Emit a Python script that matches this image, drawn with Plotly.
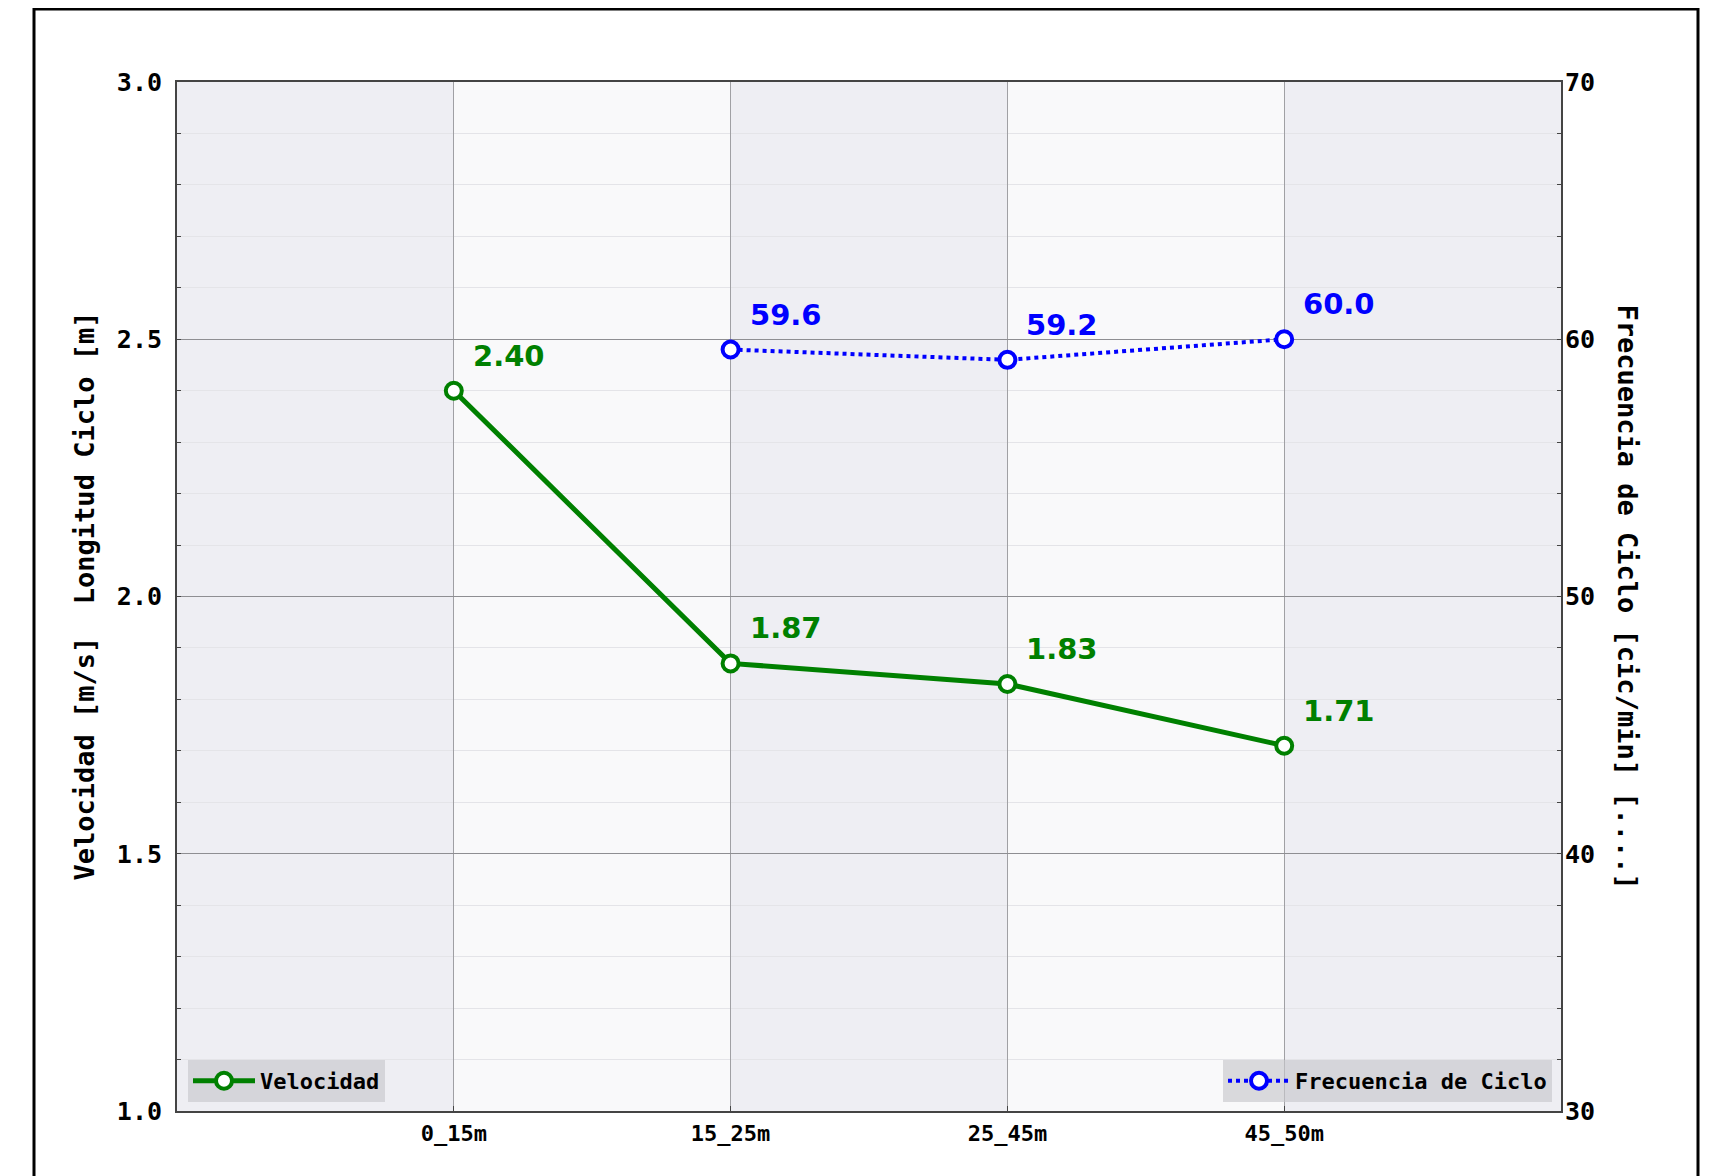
import plotly.graph_objects as go

categories = ["0_15m", "15_25m", "25_45m", "45_50m"]
velocidad = [2.40, 1.87, 1.83, 1.71]
frecuencia = [None, 59.6, 59.2, 60.0]
vel_labels = ["2.40", "1.87", "1.83", "1.71"]
frec_labels = [None, "59.6", "59.2", "60.0"]
x_pos = [1, 2, 3, 4]

W, H = 1706, 1168
L, R, T, B = 169, 1553, 74, 1103
pw, ph = R - L, B - T

def px(x):
    return (x - L) / pw

def py(y):
    return (B - y) / ph

GREEN = "#008000"
BLUE = "#0000ff"
MONO = "DejaVu Sans Mono"

fig = go.Figure()

fig.add_trace(go.Scatter(
    x=x_pos, y=velocidad, name="<b>Velocidad</b>", mode="lines+markers",
    line=dict(color=GREEN, width=5),
    marker=dict(symbol="circle", size=16, color="white", line=dict(color=GREEN, width=4)),
    legend="legend", yaxis="y",
))
fig.add_trace(go.Scatter(
    x=x_pos, y=frecuencia, name="<b>Frecuencia de Ciclo</b>", mode="lines+markers",
    line=dict(color=BLUE, width=4, dash="dot"),
    marker=dict(symbol="circle", size=16, color="white", line=dict(color=BLUE, width=4)),
    legend="legend2", yaxis="y2",
))

annotations = []
for xv, yv, t in zip(x_pos, velocidad, vel_labels):
    annotations.append(dict(x=xv, y=yv, xref="x", yref="y", text=f"<b>{t}</b>", showarrow=False,
                            xshift=55, yshift=35, font=dict(family="DejaVu Sans", size=29, color=GREEN)))
for xv, yv, t in zip(x_pos, frecuencia, frec_labels):
    if yv is None:
        continue
    annotations.append(dict(x=xv, y=yv, xref="x", yref="y2", text=f"<b>{t}</b>", showarrow=False,
                            xshift=55, yshift=35, font=dict(family="DejaVu Sans", size=29, color=BLUE)))

annotations.append(dict(x=px(76), y=0.5, xref="paper", yref="paper", showarrow=False, textangle=-90,
                        text="<b>Velocidad [m/s]\u00a0\u00a0Longitud Ciclo [m]</b>",
                        font=dict(family=MONO, size=27, color="black"), xanchor="center", yanchor="middle"))
annotations.append(dict(x=px(1619), y=0.5, xref="paper", yref="paper", showarrow=False, textangle=90,
                        text="<b>Frecuencia de Ciclo [cic/min] [....]</b>",
                        font=dict(family=MONO, size=27, color="black"), xanchor="center", yanchor="middle"))

shapes = []
band_colors = ["#eeeef3", "#f9f9fa", "#eeeef3", "#f9f9fa", "#eeeef3"]
for i, c in enumerate(band_colors):
    shapes.append(dict(type="rect", xref="x", yref="paper", x0=i, x1=i + 1, y0=0, y1=1,
                       fillcolor=c, line=dict(width=0), layer="below"))
# outer frame
shapes.append(dict(type="rect", xref="paper", yref="paper", x0=px(26), x1=px(1690), y0=py(1200), y1=py(1),
                   line=dict(color="black", width=3), fillcolor="rgba(0,0,0,0)", layer="above"))

fig.update_layout(
    width=W, height=H,
    margin=dict(l=L, r=W - R, t=T, b=H - B),
    paper_bgcolor="white", plot_bgcolor="#eeeef3",
    xaxis=dict(
        range=[0, 5], tickmode="array", tickvals=x_pos, ticktext=[f"<b>{c}</b>" for c in categories],
        tickfont=dict(family=MONO, size=22, color="black"),
        showgrid=True, gridcolor="#a0a0a4", gridwidth=1, zeroline=False,
        showline=True, linecolor="#444444", linewidth=2, mirror=True,
        ticks="inside", ticklen=5, tickcolor="#444444", ticklabelstandoff=2,
    ),
    yaxis=dict(
        range=[1.0, 3.0], tickmode="array", tickvals=[1.0, 1.5, 2.0, 2.5, 3.0],
        ticktext=["<b>1.0</b>", "<b>1.5</b>", "<b>2.0</b>", "<b>2.5</b>", "<b>3.0</b>"],
        tickfont=dict(family=MONO, size=25, color="black"),
        showgrid=True, gridcolor="#8e8e92", gridwidth=1, zeroline=False,
        showline=True, linecolor="#444444", linewidth=2,
        ticks="inside", ticklen=4, tickcolor="#444444", ticklabelstandoff=8,
        minor=dict(dtick=0.1, showgrid=True, gridcolor="#e4e4e8", gridwidth=1,
                   ticks="inside", ticklen=4, tickcolor="#444444"),
    ),
    yaxis2=dict(
        range=[30, 70], overlaying="y", side="right", tickmode="array", tickvals=[30, 40, 50, 60, 70],
        ticktext=["<b>30</b>", "<b>40</b>", "<b>50</b>", "<b>60</b>", "<b>70</b>"],
        tickfont=dict(family=MONO, size=25, color="black"),
        showgrid=False, zeroline=False, showline=True, linecolor="#444444", linewidth=2,
        ticks="inside", ticklen=4, tickcolor="#444444", ticklabelstandoff=-3,
        minor=dict(dtick=2, ticks="inside", ticklen=4, tickcolor="#444444", showgrid=False),
    ),
    legend=dict(x=px(180), y=py(1094), xanchor="left", yanchor="bottom",
                bgcolor="rgba(200,200,205,0.65)", borderwidth=0,
                font=dict(family=MONO, size=22, color="black"), itemwidth=62),
    legend2=dict(x=px(1544), y=py(1094), xanchor="right", yanchor="bottom",
                 bgcolor="rgba(200,200,205,0.65)", borderwidth=0,
                 font=dict(family=MONO, size=22, color="black"), itemwidth=62),
    annotations=annotations,
    shapes=shapes,
    showlegend=True,
)

fig.write_html("out.html")
